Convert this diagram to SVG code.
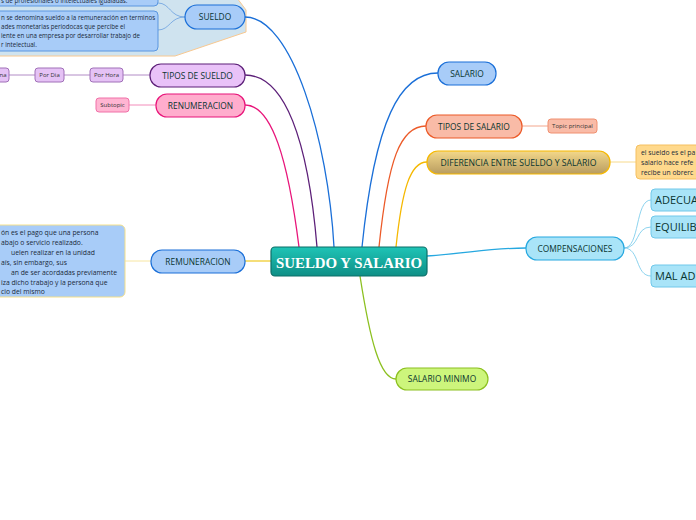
<svg xmlns="http://www.w3.org/2000/svg" width="696" height="520" viewBox="0 0 696 520">
<defs>
<linearGradient id="gc" x1="0" y1="0" x2="0" y2="1"><stop offset="0" stop-color="#1fc4b6"/><stop offset="1" stop-color="#0e8f86"/></linearGradient>
<linearGradient id="gd" x1="0" y1="0" x2="0" y2="1"><stop offset="0" stop-color="#f3d88a"/><stop offset="1" stop-color="#b89c60"/></linearGradient>
<style>
text{font-family:"Open Sans","DejaVu Sans",sans-serif;fill:#0a3530}
.lb{font-size:8.4px;text-anchor:middle}
.sm{font-size:6px;text-anchor:middle;fill:#333}
.tx{font-size:6.2px;fill:#1a2a3a}
.tr{font-size:6.8px;fill:#1a2a3a}
.c{fill:none;stroke-width:1.3}
.t{fill:none;stroke-width:0.8}
</style>
</defs>
<rect width="696" height="520" fill="#ffffff"/>
<polygon points="-2,-2 237,-2 246,10 246,32 175,56 -2,56" fill="#cfe3ef" stroke="#f8c890" stroke-width="1"/>
<g id="connectors">
<path class="c" stroke="#1a6fd8" d="M334 247 C328 140 292 17 245 17"/>
<path class="c" stroke="#5c1f78" d="M317 247 C308 140 285 75 245 75"/>
<path class="c" stroke="#e8157a" d="M299 247 C288 160 272 105 245 105"/>
<path class="c" stroke="#f0cc30" d="M271 261 L245 261"/>
<path class="c" stroke="#1a6fd8" d="M362 247 C375 120 400 73 438 73"/>
<path class="c" stroke="#ec5a28" d="M379 247 C388 160 400 126 426 126"/>
<path class="c" stroke="#f5b800" d="M396 247 C402 190 410 162 427 162"/>
<path class="c" stroke="#26a8e0" d="M427 256 C470 253 490 248 526 248"/>
<path class="c" stroke="#8cc020" d="M360 276 C370 340 380 379 396 379"/>
<path class="t" stroke="#6aa0e0" d="M185 17 C170 17 170 3 158 3"/>
<path class="t" stroke="#6aa0e0" d="M185 17 C170 17 170 30 158 30"/>
<path class="t" stroke="#a070b8" d="M150 75 L123 75 M90 75 L64 75 M35 75 L9 75"/>
<path class="t" stroke="#f070a8" d="M156 105 L129 105"/>
<path class="t" stroke="#f5e08a" d="M151 261 L125 261"/>
<path class="t" stroke="#f09070" d="M522 126 L548 126"/>
<path class="t" stroke="#f5d070" d="M610 162 L636 162"/>
<path class="t" stroke="#70c8ea" d="M624 248 C640 248 635 200 651 200"/>
<path class="t" stroke="#70c8ea" d="M624 248 C640 248 635 227 651 227"/>
<path class="t" stroke="#70c8ea" d="M624 248 C640 248 635 276 651 276"/>
</g>
<g id="n-sueldo-t1"><rect x="-10" y="-10" width="168" height="16" rx="4" fill="#a8ccf8" stroke="#5a96e0"/><text class="tx" x="1" y="2.5">s de profesionales o intelectuales igualadas.</text></g>
<g id="n-sueldo-t2"><rect x="-10" y="11" width="168" height="40" rx="4" fill="#a8ccf8" stroke="#5a96e0"/>
<text class="tx" x="1" y="20">n se denomina sueldo a la remuneración en terminos</text>
<text class="tx" x="1" y="29">ades monetarias periodocas que percibe el</text>
<text class="tx" x="1" y="38">iente en una empresa por desarrollar trabajo de</text>
<text class="tx" x="1" y="47">r intelectual.</text></g>
<g id="n-sueldo"><rect x="185" y="5" width="60" height="24" rx="12" fill="#a8ccf8" stroke="#1a6fd8" stroke-width="1.2"/><text class="lb" x="215" y="20">SUELDO</text></g>
<g id="n-tipos-sueldo"><rect x="150" y="64" width="95" height="23" rx="11" fill="#e9c2f8" stroke="#5c1f78" stroke-width="1.2"/><text class="lb" x="197.5" y="78.5">TIPOS DE SUELDO</text></g>
<g id="n-por-hora"><rect x="90" y="68" width="33" height="14" rx="3" fill="#e5c2f5" stroke="#a070b8"/><text class="sm" x="106.5" y="77.3">Por Hora</text></g>
<g id="n-por-dia"><rect x="35" y="68" width="29" height="14" rx="3" fill="#e5c2f5" stroke="#a070b8"/><text class="sm" x="49.5" y="77.3">Por Dia</text></g>
<g id="n-por-semana"><rect x="-20" y="68" width="29" height="14" rx="3" fill="#e5c2f5" stroke="#a070b8"/><text class="sm" x="3" y="77.3">na</text></g>
<g id="n-renumeracion"><rect x="156" y="94" width="89" height="23" rx="11" fill="#ffadcd" stroke="#e8157a" stroke-width="1.2"/><text class="lb" x="200.5" y="108.5">RENUMERACION</text></g>
<g id="n-subtopic"><rect x="96" y="98" width="33" height="14" rx="3" fill="#ffb5d2" stroke="#f070a8"/><text class="sm" x="112.5" y="107.3">Subtopic</text></g>
<g id="n-rem-text"><rect x="-10" y="225" width="135" height="72" rx="5" fill="#a8ccf8" stroke="#f5e08a"/>
<text class="tr" x="1" y="235">ón es el pago que una persona</text>
<text class="tr" x="1" y="245">abajo o servicio realizado.</text>
<text class="tr" x="11" y="255">uelen realizar en la unidad</text>
<text class="tr" x="1" y="265">aís, sin embargo, sus</text>
<text class="tr" x="11" y="275">an de ser acordadas previamente</text>
<text class="tr" x="1" y="285">iza dicho trabajo y la persona que</text>
<text class="tr" x="1" y="294">cio del mismo</text></g>
<g id="n-remuneracion"><rect x="151" y="250" width="94" height="23" rx="11" fill="#a8ccf8" stroke="#1a6fd8" stroke-width="1.2"/><text class="lb" x="198" y="264.5">REMUNERACION</text></g>
<g id="n-central"><rect x="271" y="247" width="156" height="29" rx="4" fill="url(#gc)" stroke="#0d6e68" stroke-width="1.2"/><text x="349" y="267.5" text-anchor="middle" style="font-family:'Liberation Serif',serif;font-weight:bold;font-size:15px;fill:#ffffff" textLength="146" lengthAdjust="spacingAndGlyphs">SUELDO Y SALARIO</text></g>
<g id="n-salario"><rect x="438" y="62" width="58" height="23" rx="11" fill="#a8ccf8" stroke="#1a6fd8" stroke-width="1.2"/><text class="lb" x="467" y="76.5">SALARIO</text></g>
<g id="n-tipos-salario"><rect x="426" y="115" width="96" height="23" rx="11" fill="#f9bba7" stroke="#ec5a28" stroke-width="1.2"/><text class="lb" x="474" y="129.5">TIPOS DE SALARIO</text></g>
<g id="n-topic-principal"><rect x="548" y="119" width="49" height="14" rx="3" fill="#f9bba7" stroke="#f09070"/><text class="sm" x="572.5" y="128.3">Topic principal</text></g>
<g id="n-diferencia"><rect x="427" y="151" width="183" height="23" rx="11" fill="url(#gd)" stroke="#f5b800" stroke-width="1.2"/><text class="lb" x="518.5" y="165.5" textLength="156" lengthAdjust="spacingAndGlyphs">DIFERENCIA ENTRE  SUELDO Y SALARIO</text></g>
<g id="n-dif-text"><rect x="636" y="145" width="80" height="34" rx="4" fill="#ffd98c" stroke="#f5c060"/>
<text class="tr" x="641" y="155">el sueldo es el pa</text>
<text class="tr" x="641" y="165">salario hace refe</text>
<text class="tr" x="641" y="175">recibe un obrerc</text></g>
<g id="n-compensaciones"><rect x="526" y="237" width="98" height="23" rx="11" fill="#a9e4f8" stroke="#26a8e0" stroke-width="1.2"/><text class="lb" x="575" y="251.5">COMPENSACIONES</text></g>
<g id="n-adecua"><rect x="651" y="189" width="60" height="22" rx="4" fill="#a9e4f8" stroke="#70c8ea"/><text x="655" y="204" style="font-size:11px">ADECUA</text></g>
<g id="n-equilib"><rect x="651" y="216" width="60" height="22" rx="4" fill="#a9e4f8" stroke="#70c8ea"/><text x="655" y="231" style="font-size:11px">EQUILIB</text></g>
<g id="n-malad"><rect x="651" y="265" width="60" height="22" rx="4" fill="#a9e4f8" stroke="#70c8ea"/><text x="655" y="280" style="font-size:11px">MAL AD</text></g>
<g id="n-salario-minimo"><rect x="396" y="368" width="92" height="22" rx="11" fill="#cdf57c" stroke="#8cc020" stroke-width="1.2"/><text class="lb" x="442" y="382">SALARIO MINIMO</text></g>
</svg>
